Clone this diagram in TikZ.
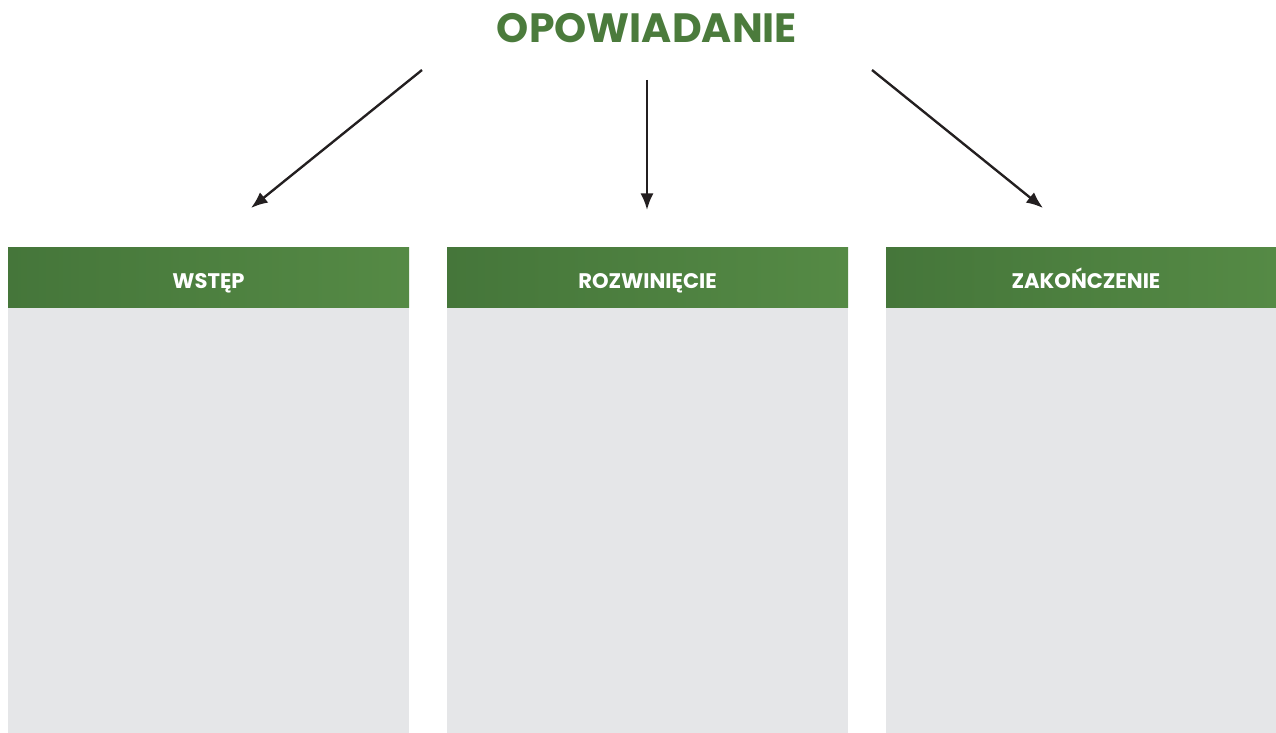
\documentclass[tikz,border=0pt]{standalone}
\usepackage{fontspec}
\setmainfont{Poppins}
\usepackage{xcolor}
\usepackage{tikz}
\usetikzlibrary{arrows.meta,positioning,calc}

\definecolor{titlegreen}{HTML}{4B7B3C}
\definecolor{headdark}{HTML}{45763A}
\definecolor{headlight}{HTML}{558A45}
\definecolor{panelgray}{HTML}{E5E6E8}
\definecolor{arrowgray}{HTML}{231F20}

\begin{document}
\begin{tikzpicture}[x=0.02cm,y=-0.02cm,
  every node/.style={font=\bfseries},
  head/.style={text=white,font=\bfseries\fontsize{12}{14}\selectfont,
    text height=8.6pt,text depth=0pt,inner sep=0pt},
  link/.style={draw=arrowgray,line width=1.35pt,-{Latex[length=9.5pt,width=7.5pt]}}]
  \useasboundingbox (0,0) rectangle (1276,733);
  % title
  \node[text=titlegreen,font=\bfseries\fontsize{23.3}{26}\selectfont] (title) at (647,28) {OPOWIADANIE};
  % arrow ends
  \coordinate (lfrom) at (422,70);
  \coordinate (lto) at (251,208);
  \coordinate (mfrom) at (647,80);
  \coordinate (mto) at (647,210);
  \coordinate (rfrom) at (872,70);
  \coordinate (rto) at (1043,208);
  \draw[link] (lfrom) -- (lto);
  \draw[link] (mfrom) -- (mto);
  \draw[link] (rfrom) -- (rto);
  % panels
  \fill[panelgray] (8,308) rectangle (409,733);
  \fill[panelgray] (447,308) rectangle (848,733);
  \fill[panelgray] (886,308) rectangle (1276,733);
  % headers
  \shade[left color=headdark,right color=headlight] (8,248) rectangle (409,308);
  \shade[left color=headdark,right color=headlight] (447,248) rectangle (848,308);
  \shade[left color=headdark,right color=headlight] (886,248) rectangle (1276,308);
  \node[head] (wstep) at (208.5,281) {WSTĘP};
  \node[head] (rozw) at (647.5,281) {ROZWINIĘCIE};
  \node[head] (zak) at (1086,281) {ZAKOŃCZENIE};
\end{tikzpicture}
\end{document}
